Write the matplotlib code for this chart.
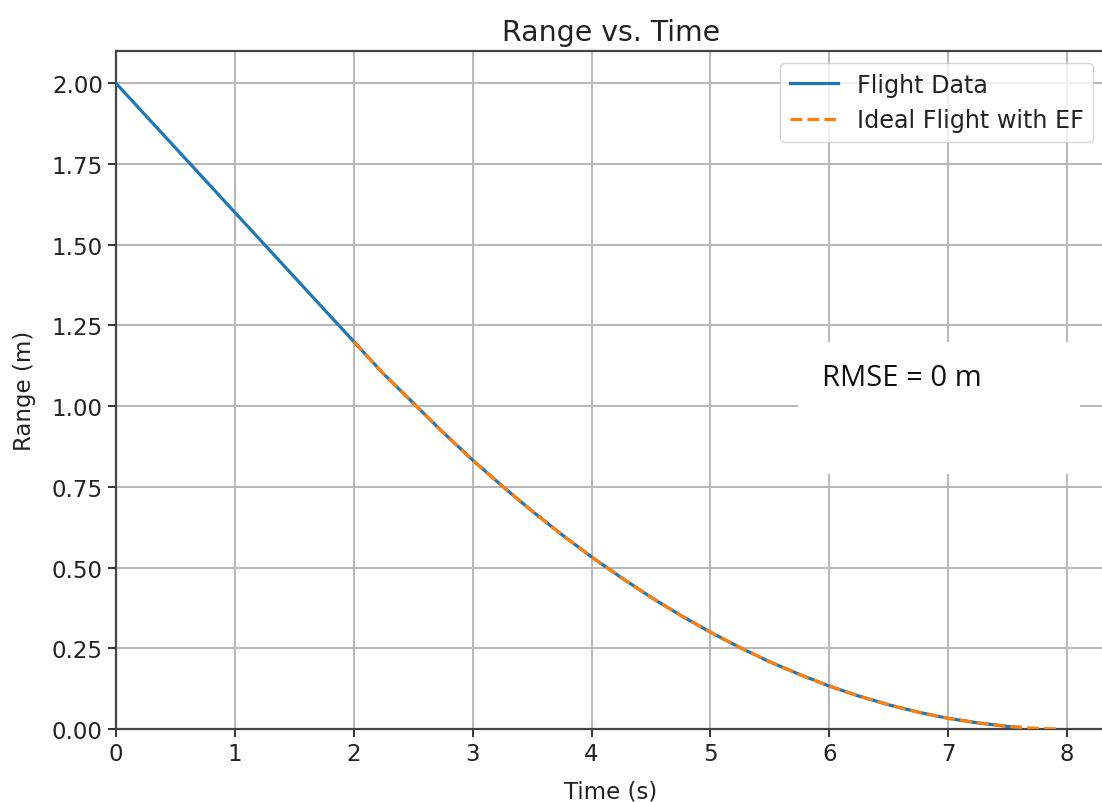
import matplotlib
matplotlib.use("Agg")
import matplotlib.pyplot as plt
from matplotlib.patches import Rectangle

# flight data (s, m)
flight_t = [0.0, 0.5, 1.0, 1.5, 2.0, 2.25, 2.5, 2.75, 3.0, 3.25, 3.5, 3.75, 4.0, 4.25,
            4.5, 4.75, 5.0, 5.25, 5.5, 5.75, 6.0, 6.25, 6.5, 6.75, 7.0, 7.25, 7.5, 7.6]
flight_r = [2.00, 1.80, 1.60, 1.40, 1.20, 1.10, 1.01, 0.919, 0.833, 0.752, 0.675, 0.602,
            0.533, 0.469, 0.408, 0.352, 0.300, 0.252, 0.208, 0.169, 0.133, 0.102, 0.075,
            0.052, 0.033, 0.019, 0.008, 0.005]

# ideal flight with EF
ideal_t = [2.0, 2.25, 2.5, 2.75, 3.0, 3.25, 3.5, 3.75, 4.0, 4.25, 4.5, 4.75, 5.0, 5.25,
           5.5, 5.75, 6.0, 6.25, 6.5, 6.75, 7.0, 7.25, 7.5, 7.75, 7.92]
ideal_r = [1.20, 1.10, 1.01, 0.919, 0.833, 0.752, 0.675, 0.602, 0.533, 0.469, 0.408,
           0.352, 0.300, 0.252, 0.208, 0.169, 0.133, 0.102, 0.075, 0.052, 0.033, 0.019,
           0.008, 0.002, 0.0]

rmse_label = "RMSE = 0 m"

fs = 16.5

fig = plt.figure(figsize=(11.02, 8.03), dpi=100)
ax = fig.add_axes([0.1053, 0.0909, 0.8975, 0.8443])

ax.plot(flight_t, flight_r, color="#1f77b4", linewidth=2.3, label="Flight Data", zorder=3)
ax.plot(ideal_t, ideal_r, color="#ff7f0e", linewidth=2.3, linestyle="--",
        label="Ideal Flight with EF", zorder=4)

ax.set_xlim(0, 8.32)
ax.set_ylim(0, 2.1)
ax.set_xticks(range(0, 9))
ax.set_yticks([0.0, 0.25, 0.5, 0.75, 1.0, 1.25, 1.5, 1.75, 2.0])
ax.set_yticklabels([f"{v:.2f}" for v in ax.get_yticks()])
ax.grid(True, color="#b8b8b8", linewidth=1.4)
ax.set_axisbelow(True)
for s in ax.spines.values():
    s.set_color("#444444")
    s.set_linewidth(1.6)
ax.tick_params(labelsize=fs, length=6, width=1.4, color="#333333", labelcolor="#222222")

ax.set_title("Range vs. Time", fontsize=20.4, color="#222222", pad=8)
ax.set_xlabel("Time (s)", fontsize=fs, color="#222222", labelpad=10)
ax.set_ylabel("Range (m)", fontsize=fs, color="#222222", labelpad=11)

leg = ax.legend(loc="upper right", fontsize=17.2, framealpha=0.8, edgecolor="#cccccc")
for t in leg.get_texts():
    t.set_color("#222222")

# white text box pasted over the grid
ax.add_patch(Rectangle((0.6896, 0.3761), 0.2851, 0.1947, transform=ax.transAxes,
                       facecolor="white", edgecolor="none", zorder=2.5))
ax.text(0.7139, 0.519, rmse_label, transform=ax.transAxes, fontsize=21,
        family="Open Sans", color="#111111", va="center", ha="left", zorder=5)

fig.savefig("out.png", dpi=100)
